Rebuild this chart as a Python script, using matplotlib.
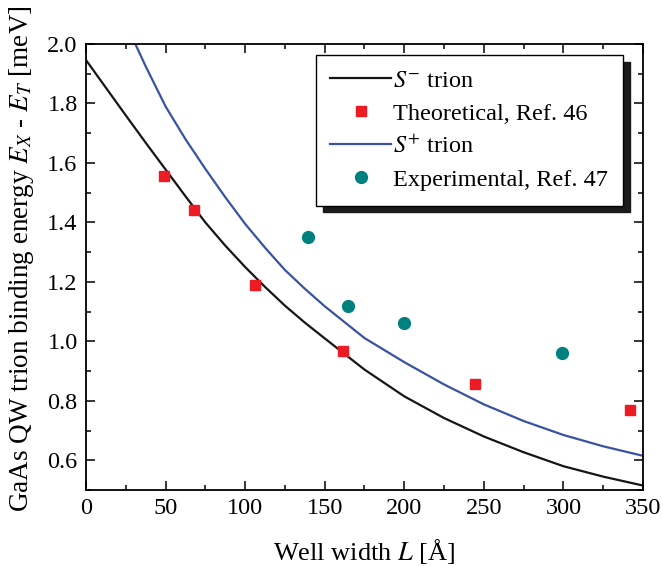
# GaAs QW trion binding energy vs well width

import matplotlib
matplotlib.use('Agg')
from matplotlib import pyplot as plt
from matplotlib import font_manager as fm
from matplotlib.ticker import MultipleLocator, FormatStrFormatter

# Times-like serif; fall back to STIX if Liberation is missing
try:
    fm.findfont('Liberation Serif', fallback_to_default=False)
    serif = 'Liberation Serif'
except ValueError:
    serif = 'STIXGeneral'
plt.rcParams['font.family'] = [serif, 'DejaVu Serif']
plt.rcParams['mathtext.fontset'] = 'stix'
plt.rcParams['font.size'] = 17.5

# S- trion curve
s_minus_x = [0, 12.5, 25, 37.5, 50, 62.5, 75, 87.5, 100, 112.5, 125, 137.5, 150,
             175, 200, 225, 250, 275, 300, 325, 350]
s_minus_y = [1.946, 1.853, 1.76, 1.668, 1.578, 1.488, 1.40, 1.322, 1.25, 1.183, 1.12, 1.063, 1.01,
             0.905, 0.815, 0.742, 0.68, 0.627, 0.58, 0.545, 0.515]

# S+ trion curve
s_plus_x = [25, 31, 37.5, 50, 62.5, 75, 87.5, 100, 112.5, 125, 137.5, 150,
            175, 200, 225, 250, 275, 300, 325, 350]
s_plus_y = [2.07, 2.0, 1.925, 1.79, 1.68, 1.58, 1.485, 1.395, 1.315, 1.24, 1.177, 1.118,
            1.011, 0.93, 0.855, 0.788, 0.732, 0.685, 0.647, 0.615]

# Theoretical, Ref. 46
theo_x = [49, 67.6, 105.9, 161.8, 244.2, 342]
theo_y = [1.556, 1.442, 1.19, 0.968, 0.855, 0.77]

# Experimental, Ref. 47
exp_x = [139.8, 164.7, 199.6, 299.2]
exp_y = [1.351, 1.12, 1.061, 0.961]

fig = plt.figure(figsize=(6.63, 5.67), dpi=100)
ax = fig.add_axes([0.1297, 0.1358, 0.8401, 0.7866])

ax.plot(s_minus_x, s_minus_y, color='#161616', linewidth=1.6, label='$S^{-}$ trion')
ax.plot(theo_x, theo_y, linestyle='none', marker='s', markersize=7,
        color='#ed1c24', label='Theoretical, Ref. 46')
ax.plot(s_plus_x, s_plus_y, color='#3953a4', linewidth=1.6, label='$S^{+}$ trion')
ax.plot(exp_x, exp_y, linestyle='none', marker='o', markersize=8.5,
        color='#00807f', label='Experimental, Ref. 47')

ax.set_xlim(0, 350)
ax.set_ylim(0.5, 2.0)
ax.xaxis.set_major_locator(MultipleLocator(50))
ax.xaxis.set_minor_locator(MultipleLocator(25))
ax.yaxis.set_minor_locator(MultipleLocator(0.1))
ax.set_yticks([0.6, 0.8, 1.0, 1.2, 1.4, 1.6, 1.8, 2.0])
ax.yaxis.set_major_formatter(FormatStrFormatter('%.1f'))

ax.tick_params(which='both', direction='in', top=True, right=True, width=1.1)
ax.tick_params(which='major', length=6.5, pad=6)
ax.tick_params(which='minor', length=3.6)
for sp in ax.spines.values():
    sp.set_linewidth(1.3)

ax.set_xlabel('Well width $L$ [Å]', fontsize=19, labelpad=13)
ax.set_ylabel('GaAs QW trion binding energy $E_X$ - $E_T$ [meV]', fontsize=19.5)
ax.yaxis.set_label_coords(-0.09, 0.519)

leg = ax.legend(loc='upper right', bbox_to_anchor=(0.964, 0.975), borderaxespad=0,
                fancybox=False, framealpha=1, edgecolor='black',
                shadow={'ox': 5, 'oy': -5, 'color': '#1a1a1a', 'alpha': 1},
                handlelength=2.5, handletextpad=0.1, labelspacing=0.45,
                borderpad=0.6, fontsize=17.5)
leg.get_frame().set_linewidth(1.0)

plt.savefig('out.png', dpi=100)
